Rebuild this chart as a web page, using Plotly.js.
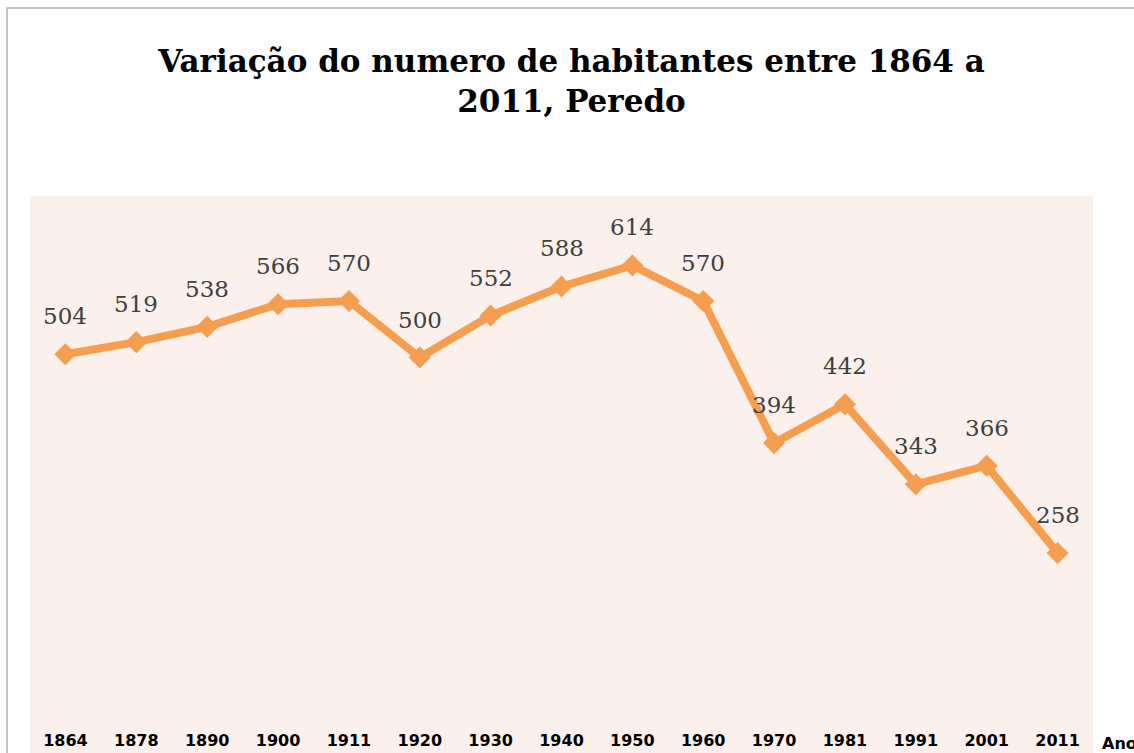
<!DOCTYPE html>
<html>
<head>
<meta charset="utf-8">
<script src="https://cdn.plot.ly/plotly-3.0.1.min.js"></script>
<style>html,body{margin:0;padding:0;background:#fff;overflow:hidden}#chart{width:1134px;height:753px}</style>
</head>
<body>
<div id="chart"></div>
<script>
const years = ["1864","1878","1890","1900","1911","1920","1930","1940","1950","1960","1970","1981","1991","2001","2011"];
const habitantes = [504,519,538,566,570,500,552,588,614,570,394,442,343,366,258];
const titleText = "Variação do numero de habitantes entre 1864 a<br>2011, Peredo";
const axisLabel = "Ano";

const orange = "#F59E4F";
const labelAnnotations = years.map((y, i) => ({
  x: i, y: habitantes[i], xref: "x", yref: "y",
  text: String(habitantes[i]), showarrow: false,
  yshift: 38, yanchor: "middle", xanchor: "center",
  font: {family: "DejaVu Serif, serif", size: 23, color: "#404040"}
}));

const data = [{
  type: "scatter", mode: "lines+markers",
  x: years, y: habitantes,
  line: {color: orange, width: 8},
  marker: {symbol: "diamond", size: 17, color: orange},
  hoverinfo: "skip", cliponaxis: false
}];

const layout = {
  width: 1134, height: 753,
  margin: {l: 30, r: 41, t: 196, b: 24},
  paper_bgcolor: "#ffffff",
  plot_bgcolor: "rgba(0,0,0,0)",
  showlegend: false,
  title: {
    text: titleText, xref: "container", yref: "container",
    x: 0.504, xanchor: "center", y: 0.905, yanchor: "top",
    font: {family: "DejaVu Serif, serif", size: 31, color: "#000000", weight: "bold"}
  },
  xaxis: {
    type: "category", range: [-0.5, 14.5],
    showgrid: false, zeroline: false, showline: false, ticks: "",
    tickfont: {family: "DejaVu Sans, sans-serif", size: 16, color: "#000000", weight: "bold"},
    fixedrange: true
  },
  yaxis: {
    range: [40, 700], showgrid: false, zeroline: false, showline: false,
    showticklabels: false, ticks: "", fixedrange: true
  },
  shapes: [
    {type: "rect", xref: "paper", yref: "paper", x0: 0, x1: 1, y0: -0.1, y1: 1,
     fillcolor: "#FBF0EC", line: {width: 0}, layer: "below"},
    {type: "rect", xref: "paper", yref: "paper", x0: -0.0216, x1: 1.2, y0: -0.2, y1: 1.3527,
     fillcolor: "rgba(0,0,0,0)", line: {color: "#C4C4C4", width: 2}, layer: "above"}
  ],
  annotations: labelAnnotations.concat([{
    xref: "paper", yref: "paper", x: 1, y: 0, xshift: 7, yshift: -3,
    xanchor: "left", yanchor: "top", showarrow: false, text: axisLabel,
    font: {family: "DejaVu Sans, sans-serif", size: 16, color: "#000000", weight: "bold"}
  }])
};

Plotly.newPlot("chart", data, layout, {displayModeBar: false, staticPlot: true});
</script>
</body>
</html>
